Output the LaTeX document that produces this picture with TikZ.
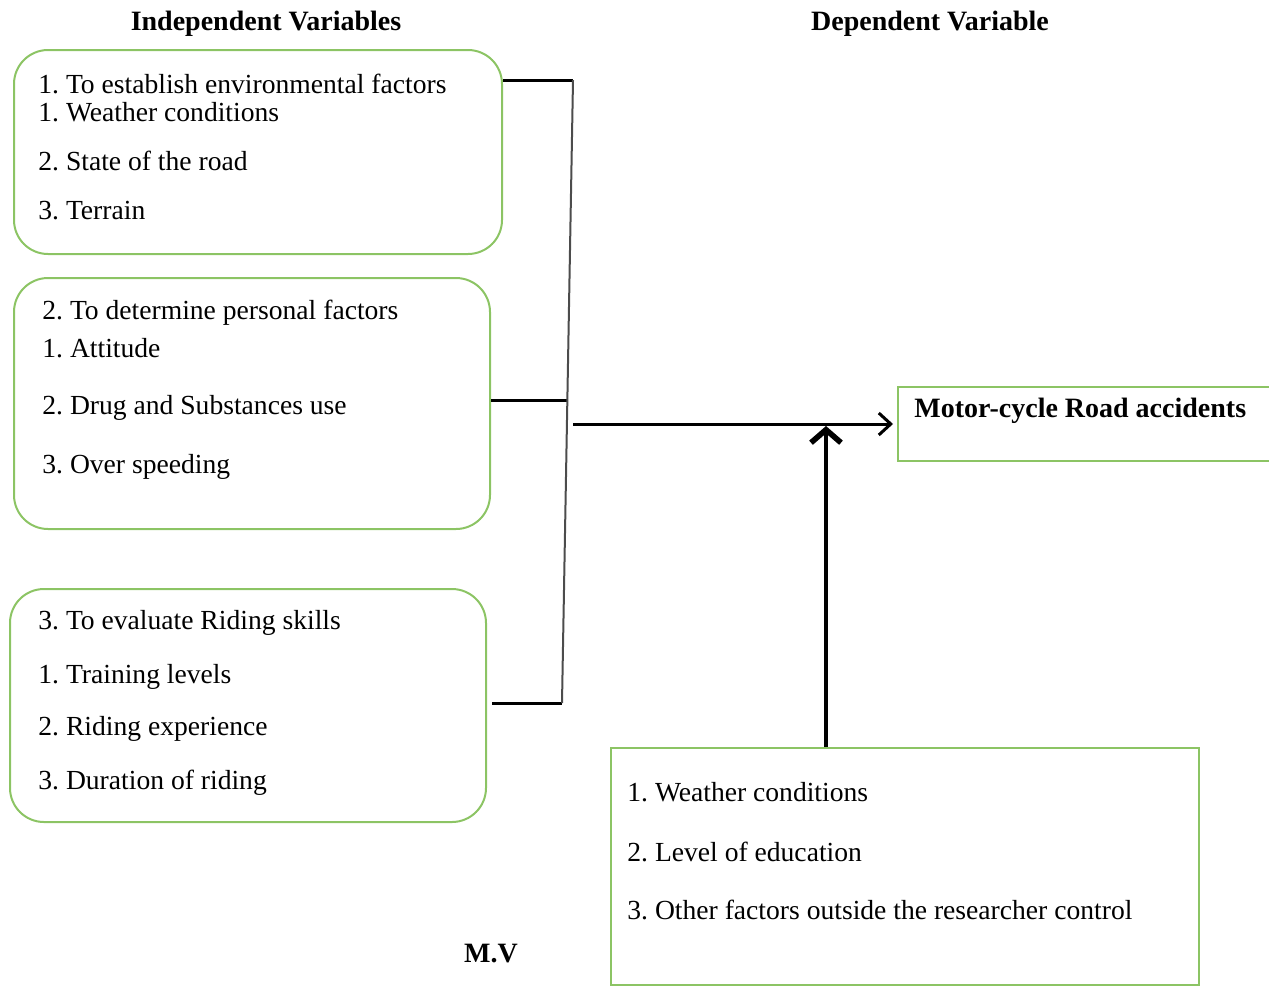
\documentclass[tikz,border=0pt]{standalone}
\usepackage{fontspec}
\setmainfont{Liberation Serif}
\usetikzlibrary{arrows.meta}
\definecolor{boxgreen}{RGB}{140,196,100}
\frenchspacing
\begin{document}
\begin{tikzpicture}[x=0.5pt,y=-0.5pt,
  gbox/.style={draw=boxgreen, line width=1pt, rounded corners=17pt, anchor=north west, inner sep=0pt},
  sbox/.style={draw=boxgreen, line width=1pt, anchor=north west, inner sep=0pt},
  txt/.style={anchor=west, inner sep=0pt, font=\fontsize{13.8}{16}\selectfont},
  ttl/.style={anchor=center, inner sep=0pt, font=\fontsize{14}{16}\selectfont\bfseries},
  conn/.style={line width=1.5pt, black},
  arr/.style={line width=1.5pt, black, -{Straight Barb[length=6pt,width=11pt,line width=1.5pt]}},
  uparr/.style={line width=2.3pt, black, -{Straight Barb[length=6.5pt,width=15pt,line width=2.8pt]}}
]
\useasboundingbox (0,0) rectangle (1269,986);

% titles
\node[ttl] (tind) at (266,24) {Independent Variables};
\node[ttl] (tdep) at (930,24) {Dependent Variable};
\node[ttl] (tmv) at (491,954) {M.V};

% boxes
\node[gbox, minimum width=244pt, minimum height=102pt] (b1) at (13,49) {};
\node[gbox, minimum width=238pt, minimum height=125.5pt] (b2) at (13,277) {};
\node[gbox, minimum width=238pt, minimum height=116.5pt] (b3) at (9,588) {};
\node[sbox, minimum width=191.5pt, minimum height=37pt] (tgt) at (897,386) {};
\node[sbox, minimum width=294pt, minimum height=118.5pt] (mv) at (610,747) {};

% box 1 text
\node[txt] (t10) at (38,84) {1. To establish environmental factors};
\node[txt] (t11) at (38,112) {1. Weather conditions};
\node[txt] (t12) at (38,161) {2. State of the road};
\node[txt] (t13) at (38,211) {3. Terrain};
% box 2 text
\node[txt] (t20) at (42,313) {2. To determine personal factors};
\node[txt] (t21) at (42,348) {1. Attitude};
\node[txt] (t22) at (42,408) {2. Drug and Substances use};
\node[txt] (t23) at (42,467) {3. Over speeding};
% box 3 text
\node[txt] (t30) at (38,623) {3. To evaluate Riding skills};
\node[txt] (t31) at (38,677) {1. Training levels};
\node[txt] (t32) at (38,729) {2. Riding experience};
\node[txt] (t33) at (38,783) {3. Duration of riding};
% target text
\node[txt, font=\fontsize{14}{16}\selectfont\bfseries] (tg) at (914,411) {Motor-cycle Road accidents};
% moderating text
\node[txt] (m1) at (627,792) {1. Weather conditions};
\node[txt] (m2) at (627,852) {2. Level of education};
\node[txt] (m3) at (627,910) {3. Other factors outside the researcher control};

% connectors
\coordinate (j1) at (573,80);
\coordinate (j2) at (567,400);
\coordinate (j3) at (562,703);
\coordinate (s) at (573,424);
\coordinate (up) at (826,426);
\draw[conn] (b1.east |- j1) -- (j1);
\draw[conn] (b2.east |- j2) -- (j2);
\draw[conn] (b3.east |- j3) ++(5,0) -- (j3);
\draw[line width=1pt, black!70] (j1) -- (j3);
\draw[arr, shorten >=2pt] (s) -- (tgt.west |- s);
\draw[uparr] (up |- mv.north) -- (up);
\end{tikzpicture}
\end{document}
